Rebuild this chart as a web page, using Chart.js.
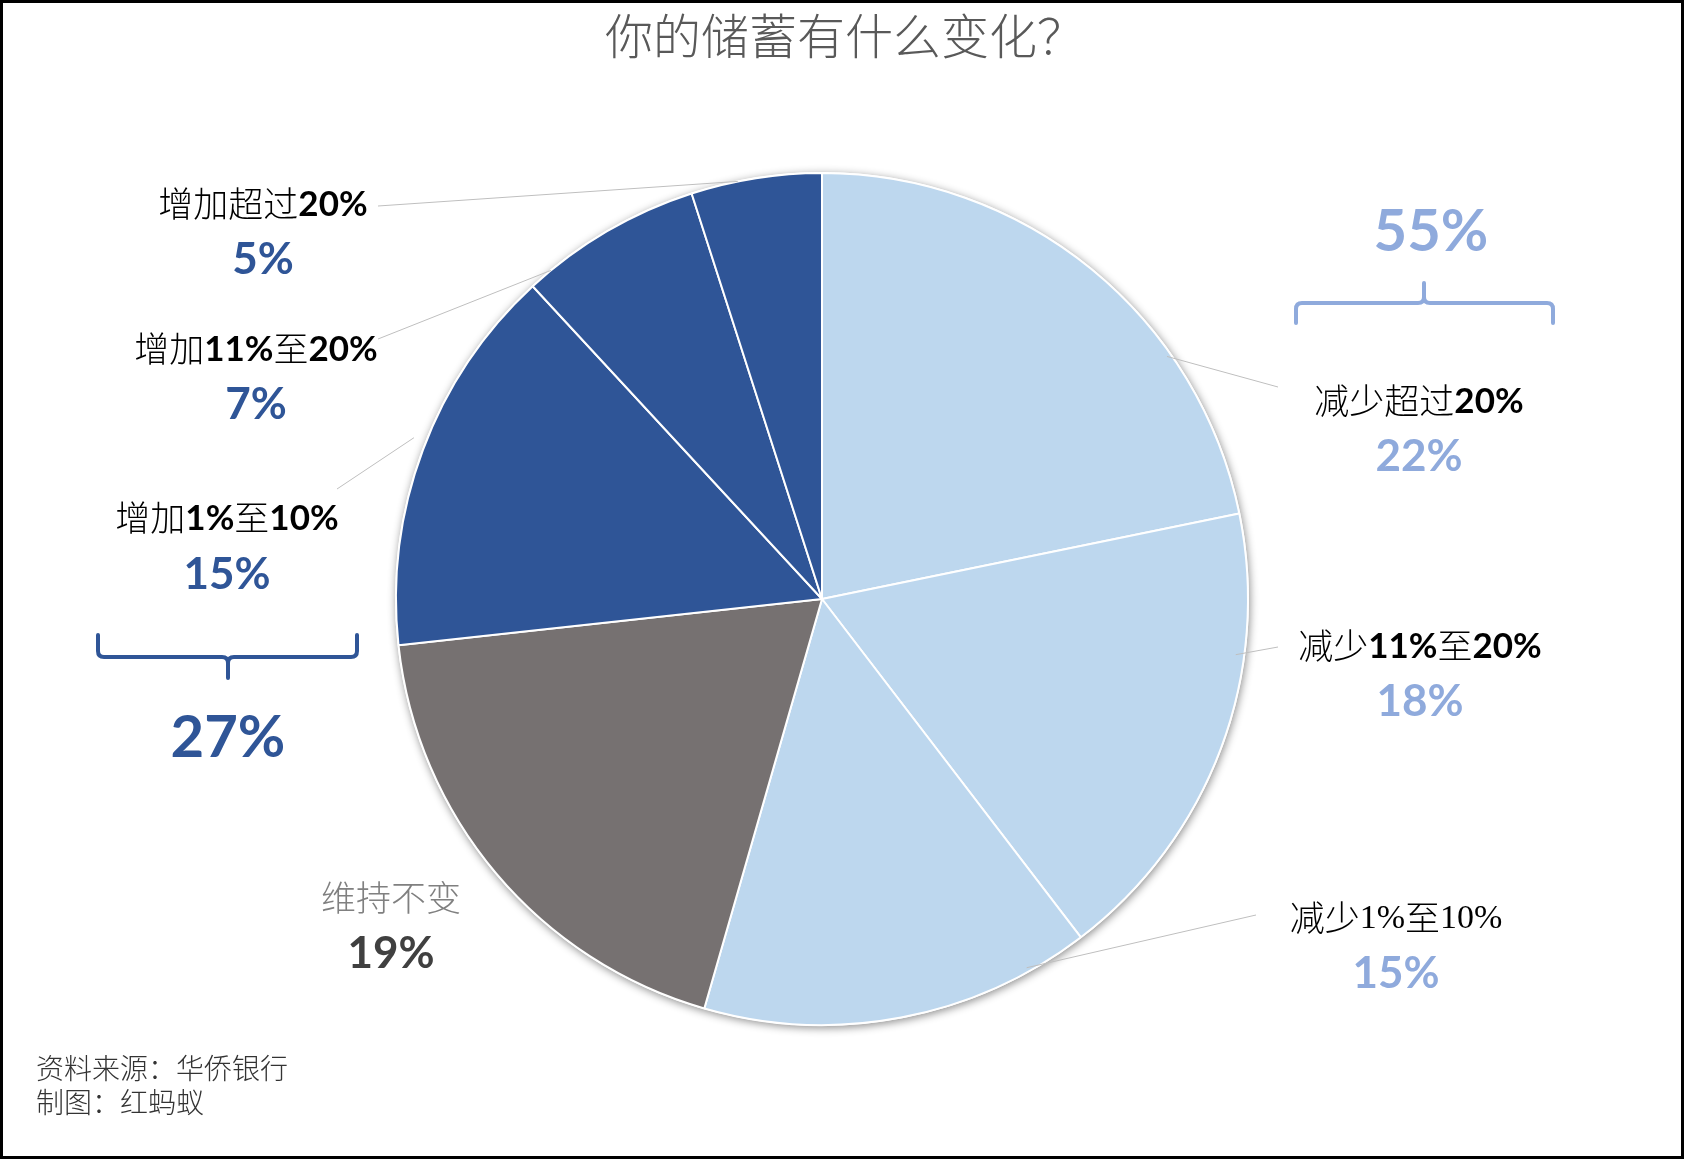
<!DOCTYPE html>
<html><head><meta charset="utf-8">
<script src="https://cdn.jsdelivr.net/npm/chart.js@4/dist/chart.umd.min.js"></script>
<style>html,body{margin:0;padding:0;background:#fff}#wrap{width:1684px;height:1159px;position:relative}canvas{display:block}</style>
</head><body><div id="wrap"><canvas id="c" width="1684" height="1159"></canvas></div>
<script>
// ---- data ----
const categories = ['减少超过20%', '减少11%至20%', '减少1%至10%', '维持不变', '增加1%至10%', '增加11%至20%', '增加超过20%'];
const values = [22, 18, 15, 19, 15, 7, 5];
const decreaseIdx = [0, 1, 2];
const increaseIdx = [4, 5, 6];
const titleText = '你的储蓄有什么变化？';
const sourceLines = ['资料来源：华侨银行', '制图：红蚂蚁'];

// ---- styles ----
const LIGHT = '#BDD7EE', DARK = '#2F5597', GRAY = '#767171';
const sliceColors = [LIGHT, LIGHT, LIGHT, GRAY, DARK, DARK, DARK];
const pctColors = ['#8FAADC', '#8FAADC', '#8FAADC', '#404040', DARK, DARK, DARK];
const nameColors = ['#000', '#000', '#000', '#808080', '#000', '#000', '#000'];
const digitStyle = ['bold', 'bold', 'serif', 'bold', 'bold', 'bold', 'bold'];
// label layout in px offsets from pie centre at reference radius 426
const REF_R = 426;
const labelPos = [[597,-199,-144],[598,46,101],[574,318,373],[-431,298,353],[-595,-82,-26],[-566,-251,-196],[-559,-396,-341]];
const leaderEnd = [[456,-212],[456,48],[434,316],null,[-485,-110],[-444,-260],[-444,-393]];
const leaderStart = [[0.70,0.99],[0.30,0.98],[0.157,0.99],null,[0.52,1.03],[0.13,1.0],[0.36,1.0]];

const CJK = '"Noto Sans CJK SC"';
const sum = idx => idx.reduce((a, i) => a + values[i], 0);

function runsOf(str) {
  const runs = [];
  for (const ch of str) {
    const cjk = /[\u3000-\u9fff\uff00-\uffef]/.test(ch);
    if (runs.length && runs[runs.length - 1].cjk === cjk) runs[runs.length - 1].t += ch;
    else runs.push({ t: ch, cjk });
  }
  return runs;
}
function drawRich(ctx, str, cx, cy, style, color) {
  const runs = runsOf(str);
  const fontFor = r => r.cjk ? `300 35px ${CJK}` : (style === 'serif' ? '34px "Liberation Serif"' : 'bold 35px Lato');
  let total = 0;
  runs.forEach(r => { ctx.font = fontFor(r); r.w = ctx.measureText(r.t).width; total += r.w; });
  let x = cx - total / 2;
  ctx.fillStyle = color; ctx.textBaseline = 'middle'; ctx.textAlign = 'left';
  runs.forEach(r => { ctx.font = fontFor(r); ctx.fillText(r.t, x, cy + (r.cjk ? 1 : 2)); x += r.w; });
}
function bracket(ctx, x1, x2, y, tipY, stemX, stemY, color) {
  const d = Math.sign(tipY - y), ds = Math.sign(stemY - y);
  ctx.save(); ctx.strokeStyle = color; ctx.lineWidth = 4; ctx.lineCap = 'round'; ctx.lineJoin = 'round';
  ctx.beginPath();
  ctx.moveTo(x1, tipY);
  ctx.lineTo(x1, y + d * 6);
  ctx.quadraticCurveTo(x1, y, x1 + 6, y);
  ctx.lineTo(stemX - 6, y);
  ctx.quadraticCurveTo(stemX, y, stemX, y + ds * 6);
  ctx.lineTo(stemX, stemY);
  ctx.moveTo(stemX, y + ds * 6);
  ctx.quadraticCurveTo(stemX, y, stemX + 6, y);
  ctx.lineTo(x2 - 6, y);
  ctx.quadraticCurveTo(x2, y, x2, y + d * 6);
  ctx.lineTo(x2, tipY);
  ctx.stroke(); ctx.restore();
}

const shadowPlugin = {
  id: 'shadow',
  beforeDatasetsDraw(chart) {
    const a = chart.getDatasetMeta(0).data[0];
    const ctx = chart.ctx;
    ctx.save();
    ctx.shadowColor = 'rgba(0,0,0,0.45)'; ctx.shadowBlur = 9; ctx.shadowOffsetX = 1; ctx.shadowOffsetY = 2;
    ctx.fillStyle = '#fff';
    ctx.beginPath(); ctx.arc(a.x, a.y, a.outerRadius + 1, 0, Math.PI * 2); ctx.fill();
    ctx.restore();
  }
};

const annotPlugin = {
  id: 'annot',
  afterDraw(chart) {
    const ctx = chart.ctx;
    const arcs = chart.getDatasetMeta(0).data;
    const cx = arcs[0].x, cy = arcs[0].y, r = arcs[0].outerRadius, s = r / REF_R;
    ctx.save();
    // title
    ctx.fillStyle = '#595959'; ctx.font = `300 48px ${CJK}`; ctx.textAlign = 'center'; ctx.textBaseline = 'middle';
    ctx.fillText(titleText, 845, 36);
    // leader lines
    ctx.strokeStyle = '#BFBFBF'; ctx.lineWidth = 1;
    arcs.forEach((a, i) => {
      if (!leaderStart[i]) return;
      const ang = a.startAngle + leaderStart[i][0] * (a.endAngle - a.startAngle);
      const rr = r * leaderStart[i][1];
      ctx.beginPath();
      ctx.moveTo(cx + rr * Math.cos(ang), cy + rr * Math.sin(ang));
      ctx.lineTo(cx + leaderEnd[i][0] * s, cy + leaderEnd[i][1] * s);
      ctx.stroke();
    });
    // labels
    arcs.forEach((a, i) => {
      const [dx, dyN, dyP] = labelPos[i];
      drawRich(ctx, categories[i], cx + dx * s, cy + dyN * s, digitStyle[i], nameColors[i]);
      ctx.font = 'bold 44px Lato'; ctx.fillStyle = pctColors[i]; ctx.textAlign = 'center'; ctx.textBaseline = 'middle';
      ctx.fillText(Math.round(values[i]) + '%', cx + dx * s, cy + dyP * s + 2);
    });
    // group brackets and totals
    bracket(ctx, cx + 474 * s, cx + 731 * s, cy - 296 * s, cy - 276 * s, cx + 602 * s, cy - 316 * s, '#8FAADC');
    bracket(ctx, cx - 724 * s, cx - 465 * s, cy + 58 * s, cy + 36 * s, cx - 594 * s, cy + 79 * s, DARK);
    ctx.font = 'bold 58px Lato'; ctx.textAlign = 'center'; ctx.textBaseline = 'middle';
    ctx.fillStyle = '#8FAADC'; ctx.fillText(sum(decreaseIdx) + '%', cx + 609 * s, cy - 370 * s + 3);
    ctx.fillStyle = DARK; ctx.fillText(sum(increaseIdx) + '%', cx - 594 * s, cy + 136 * s + 3);
    // source
    ctx.fillStyle = '#333'; ctx.font = `300 28px ${CJK}`; ctx.textAlign = 'left';
    sourceLines.forEach((t, k) => ctx.fillText(t, 36, 1068 + k * 34));
    // frame
    ctx.strokeStyle = '#000'; ctx.lineWidth = 3;
    ctx.strokeRect(1.5, 1.5, 1681, 1156);
    ctx.restore();
  }
};

new Chart(document.getElementById('c'), {
  type: 'pie',
  data: {
    labels: categories,
    datasets: [{ data: values, backgroundColor: sliceColors, borderColor: '#fff', borderWidth: 2 }]
  },
  options: {
    responsive: false, animation: false,
    layout: { padding: { top: 172, bottom: 133, left: 395, right: 435 } },
    plugins: { legend: { display: false }, tooltip: { enabled: false }, title: { display: false } }
  },
  plugins: [shadowPlugin, annotPlugin]
});
</script>
</body></html>
